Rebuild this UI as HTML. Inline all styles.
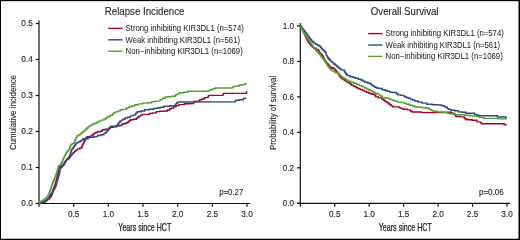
<!DOCTYPE html>
<html><head><meta charset="utf-8"><style>
html,body{margin:0;padding:0;background:#fff;}
svg{display:block;will-change:transform;}
text{font-family:"Liberation Sans",sans-serif;fill:#222;stroke:#222;stroke-width:0.25px;}
</style></head><body>
<svg width="520" height="240" viewBox="0 0 520 240">
<rect x="0" y="0" width="520" height="240" fill="#000"/>
<rect x="1" y="1.15" width="517.5" height="237.6" fill="#fff"/>

<g stroke="#111" stroke-width="1.2" fill="none">
<line x1="39.00" y1="20.5" x2="39.00" y2="206.8"/>
<line x1="35.8" y1="203.50" x2="250.3" y2="203.50"/>
<line x1="35.8" y1="203.50" x2="39.00" y2="203.50"/>
<line x1="35.8" y1="167.50" x2="39.00" y2="167.50"/>
<line x1="35.8" y1="131.50" x2="39.00" y2="131.50"/>
<line x1="35.8" y1="95.50" x2="39.00" y2="95.50"/>
<line x1="35.8" y1="59.50" x2="39.00" y2="59.50"/>
<line x1="35.8" y1="23.50" x2="39.00" y2="23.50"/>
<line x1="73.67" y1="203.50" x2="73.67" y2="206.8"/>
<line x1="108.34" y1="203.50" x2="108.34" y2="206.8"/>
<line x1="143.01" y1="203.50" x2="143.01" y2="206.8"/>
<line x1="177.68" y1="203.50" x2="177.68" y2="206.8"/>
<line x1="212.35" y1="203.50" x2="212.35" y2="206.8"/>
<line x1="247.02" y1="203.50" x2="247.02" y2="206.8"/>
</g>
<text x="32.8" y="206.40" font-size="9.6" style="stroke-width:0.12px" text-anchor="end" textLength="11.5" lengthAdjust="spacingAndGlyphs">0.0</text>
<text x="32.8" y="170.40" font-size="9.6" style="stroke-width:0.12px" text-anchor="end" textLength="11.5" lengthAdjust="spacingAndGlyphs">0.1</text>
<text x="32.8" y="134.40" font-size="9.6" style="stroke-width:0.12px" text-anchor="end" textLength="11.5" lengthAdjust="spacingAndGlyphs">0.2</text>
<text x="32.8" y="98.40" font-size="9.6" style="stroke-width:0.12px" text-anchor="end" textLength="11.5" lengthAdjust="spacingAndGlyphs">0.3</text>
<text x="32.8" y="62.40" font-size="9.6" style="stroke-width:0.12px" text-anchor="end" textLength="11.5" lengthAdjust="spacingAndGlyphs">0.4</text>
<text x="32.8" y="26.40" font-size="9.6" style="stroke-width:0.12px" text-anchor="end" textLength="11.5" lengthAdjust="spacingAndGlyphs">0.5</text>
<text x="73.67" y="216.7" font-size="9.6" style="stroke-width:0.12px" text-anchor="middle" textLength="11.4" lengthAdjust="spacingAndGlyphs">0.5</text>
<text x="108.34" y="216.7" font-size="9.6" style="stroke-width:0.12px" text-anchor="middle" textLength="11.4" lengthAdjust="spacingAndGlyphs">1.0</text>
<text x="143.01" y="216.7" font-size="9.6" style="stroke-width:0.12px" text-anchor="middle" textLength="11.4" lengthAdjust="spacingAndGlyphs">1.5</text>
<text x="177.68" y="216.7" font-size="9.6" style="stroke-width:0.12px" text-anchor="middle" textLength="11.4" lengthAdjust="spacingAndGlyphs">2.0</text>
<text x="212.35" y="216.7" font-size="9.6" style="stroke-width:0.12px" text-anchor="middle" textLength="11.4" lengthAdjust="spacingAndGlyphs">2.5</text>
<text x="247.02" y="216.7" font-size="9.6" style="stroke-width:0.12px" text-anchor="middle" textLength="11.4" lengthAdjust="spacingAndGlyphs">3.0</text>
<text x="144.8" y="230.6" font-size="10.4" text-anchor="middle" textLength="52.9" lengthAdjust="spacingAndGlyphs">Years since HCT</text>
<text transform="translate(16.3,112.5) rotate(-90)" font-size="9.8" style="stroke-width:0.12px" text-anchor="middle" textLength="75" lengthAdjust="spacingAndGlyphs">Cumulative incidence</text>
<text x="104.8" y="14.9" font-size="10.5" style="stroke-width:0.1px" textLength="79.6" lengthAdjust="spacingAndGlyphs">Relapse Incidence</text>
<line x1="108.20" y1="28.40" x2="122.50" y2="28.40" stroke="#a8002c" stroke-width="1.4"/>
<text x="125.60" y="31.10" font-size="8.4" style="stroke-width:0.02px" textLength="118.2" lengthAdjust="spacingAndGlyphs">Strong inhibiting KIR3DL1 (n=574)</text>
<line x1="108.20" y1="39.80" x2="122.50" y2="39.80" stroke="#2b4a82" stroke-width="1.4"/>
<text x="125.60" y="42.50" font-size="8.4" style="stroke-width:0.02px" textLength="114.4" lengthAdjust="spacingAndGlyphs">Weak inhibiting KIR3DL1 (n=561)</text>
<line x1="108.20" y1="51.20" x2="122.50" y2="51.20" stroke="#50a032" stroke-width="1.4"/>
<text x="125.60" y="53.90" font-size="8.4" style="stroke-width:0.02px" textLength="117.2" lengthAdjust="spacingAndGlyphs">Non−inhibiting KIR3DL1 (n=1069)</text>
<text x="219.2" y="195.1" font-size="8.2" style="stroke-width:0.1px" textLength="24.1" lengthAdjust="spacingAndGlyphs">p=0.27</text>
<g fill="none" stroke-width="1.4" stroke-linejoin="miter">
<polyline points="39.00,203.50 40.00,203.50 40.00,203.20 41.00,203.20 42.50,203.20 42.50,202.30 44.00,202.30 45.05,202.30 45.05,200.90 46.10,200.90 46.65,200.90 46.65,199.95 47.75,199.95 47.75,199.00 48.30,199.00 49.10,199.00 49.10,198.00 49.90,198.00 50.17,198.00 50.17,197.15 50.73,197.15 50.73,196.30 51.00,196.30 51.40,196.30 51.40,195.00 51.80,195.00 51.97,195.00 51.97,194.00 52.33,194.00 52.33,193.00 52.50,193.00 52.60,193.00 52.60,192.00 52.80,192.00 52.80,191.00 53.00,191.00 53.00,190.00 53.10,190.00 53.29,190.00 53.29,189.06 53.66,189.06 53.66,188.12 54.04,188.12 54.04,187.19 54.41,187.19 54.41,186.25 54.60,186.25 54.74,186.25 54.74,185.31 55.03,185.31 55.03,184.38 55.32,184.38 55.32,183.44 55.61,183.44 55.61,182.50 55.75,182.50 55.88,182.50 55.88,181.50 56.12,181.50 56.12,180.50 56.38,180.50 56.38,179.50 56.50,179.50 56.62,179.50 56.62,178.50 56.88,178.50 56.88,177.50 57.12,177.50 57.12,176.50 57.25,176.50 57.44,176.50 57.44,175.38 57.81,175.38 57.81,174.25 58.00,174.25 58.10,174.25 58.10,173.12 58.30,173.12 58.30,172.00 58.40,172.00 58.48,172.00 58.48,171.00 58.62,171.00 58.62,170.00 58.77,170.00 58.77,169.00 58.92,169.00 58.92,168.00 59.00,168.00 59.62,168.00 59.62,167.00 60.88,167.00 60.88,166.00 61.50,166.00 62.40,166.00 62.40,165.00 63.30,165.00 63.61,165.00 63.61,163.90 64.24,163.90 64.24,162.80 64.86,162.80 64.86,161.70 65.49,161.70 65.49,160.60 65.80,160.60 66.65,160.60 66.65,159.30 67.50,159.30 68.35,159.30 68.35,158.50 69.20,158.50 69.50,158.50 69.50,157.25 70.10,157.25 70.10,156.00 70.40,156.00 70.93,156.00 70.93,154.95 71.97,154.95 71.97,153.90 72.50,153.90 73.12,153.90 73.12,152.65 74.38,152.65 74.38,151.40 75.00,151.40 75.83,151.40 75.83,150.15 77.47,150.15 77.47,148.90 78.30,148.90 79.90,148.90 79.90,148.00 81.50,148.00 81.71,148.00 81.71,146.90 82.12,146.90 82.12,145.80 82.54,145.80 82.54,144.70 82.75,144.70 83.03,144.70 83.03,143.57 83.58,143.57 83.58,142.43 84.12,142.43 84.12,141.30 84.40,141.30 84.73,141.30 84.73,140.05 85.38,140.05 85.38,138.80 85.70,138.80 85.90,138.80 85.90,138.00 86.30,138.00 86.30,137.20 86.50,137.20 87.75,137.20 87.75,136.75 89.00,136.75 90.25,136.75 90.25,135.90 91.50,135.90 92.35,135.90 92.35,134.70 93.20,134.70 93.60,134.70 93.60,133.85 94.40,133.85 94.40,133.00 94.80,133.00 95.40,133.00 95.40,132.60 96.00,132.60 97.25,132.60 97.25,131.75 98.50,131.75 100.15,131.75 100.15,131.30 101.80,131.30 102.03,131.30 102.03,130.50 102.47,130.50 102.47,129.70 102.70,129.70 105.20,129.70 105.20,129.25 107.70,129.25 108.53,129.25 108.53,128.22 110.17,128.22 110.17,127.20 111.00,127.20 113.50,127.20 113.50,126.75 116.00,126.75 116.85,126.75 116.85,125.90 117.70,125.90 119.35,125.90 119.35,125.50 121.00,125.50 121.85,125.50 121.85,124.25 122.70,124.25 123.35,124.25 123.35,123.80 124.00,123.80 125.65,123.80 125.65,123.00 127.30,123.00 127.92,123.00 127.92,121.75 129.18,121.75 129.18,120.50 129.80,120.50 130.65,120.50 130.65,119.70 131.50,119.70 133.60,119.70 133.60,119.25 135.70,119.25 136.32,119.25 136.32,118.22 137.57,118.22 137.57,117.20 138.20,117.20 139.02,117.20 139.02,116.15 140.68,116.15 140.68,115.10 141.50,115.10 142.25,115.10 142.25,114.40 143.00,114.40 149.00,114.20 149.60,114.20 149.60,113.40 150.20,113.40 152.85,113.40 152.85,112.90 155.50,112.90 156.35,112.90 156.35,111.60 157.20,111.60 159.60,111.60 159.60,111.20 162.00,111.20 166.30,111.00 167.30,111.00 167.30,110.00 168.30,110.00 169.65,110.00 169.65,108.70 171.00,108.70 171.65,108.70 171.65,108.00 172.30,108.00 173.65,108.00 173.65,106.70 175.00,106.70 176.00,106.70 176.00,105.60 177.00,105.60 179.00,105.60 179.00,104.60 181.00,104.60 184.35,104.60 184.35,103.80 187.70,103.80 193.50,103.60 193.60,103.60 193.60,102.55 193.80,102.55 193.80,101.50 193.90,101.50 196.60,101.50 196.60,101.10 199.30,101.10 199.75,101.10 199.75,99.80 200.20,99.80 201.85,99.80 201.85,99.00 203.50,99.00 204.35,99.00 204.35,97.75 205.20,97.75 207.70,97.60 208.00,97.60 208.00,96.50 208.60,96.50 208.60,95.40 208.90,95.40 222.70,95.40 223.00,95.40 223.00,94.40 223.60,94.40 223.60,93.40 223.90,93.40 246.25,93.40 246.39,93.40 246.39,92.50 246.66,92.50 246.66,91.60 246.80,91.60" stroke="#a8002c"/>
<polyline points="39.00,203.50 39.85,203.50 39.85,202.80 40.70,202.80 42.05,202.80 42.05,202.00 43.40,202.00 44.50,202.00 44.50,200.70 45.60,200.70 46.14,200.70 46.14,199.60 47.21,199.60 47.21,198.50 47.75,198.50 48.27,198.50 48.27,197.10 48.80,197.10 49.35,197.10 49.35,195.80 49.90,195.80 50.17,195.80 50.17,195.00 50.73,195.00 50.73,194.20 51.00,194.20 51.27,194.20 51.27,193.35 51.83,193.35 51.83,192.50 52.10,192.50 52.55,192.50 52.55,191.25 53.45,191.25 53.45,190.00 53.90,190.00 54.15,190.00 54.15,189.00 54.65,189.00 54.65,188.00 55.15,188.00 55.15,187.00 55.40,187.00 55.58,187.00 55.58,186.00 55.95,186.00 55.95,185.00 56.32,185.00 56.32,184.00 56.50,184.00 56.62,184.00 56.62,183.00 56.88,183.00 56.88,182.00 57.12,182.00 57.12,181.00 57.25,181.00 57.44,181.00 57.44,179.88 57.81,179.88 57.81,178.75 58.00,178.75 58.12,178.75 58.12,177.75 58.38,177.75 58.38,176.75 58.62,176.75 58.62,175.75 58.75,175.75 58.94,175.75 58.94,174.62 59.31,174.62 59.31,173.50 59.50,173.50 59.60,173.50 59.60,172.25 59.80,172.25 59.80,171.00 59.90,171.00 59.96,171.00 59.96,170.13 60.08,170.13 60.08,169.27 60.19,169.27 60.19,168.40 60.25,168.40 61.00,168.40 61.00,167.25 61.75,167.25 62.12,167.25 62.12,166.32 62.88,166.32 62.88,165.40 63.25,165.40 63.62,165.40 63.62,164.45 64.38,164.45 64.38,163.50 64.75,163.50 64.94,163.50 64.94,162.63 65.33,162.63 65.33,161.77 65.71,161.77 65.71,160.90 65.90,160.90 66.18,160.90 66.18,160.15 66.72,160.15 66.72,159.40 67.00,159.40 67.55,159.40 67.55,158.60 68.10,158.60 68.39,158.60 68.39,157.68 68.96,157.68 68.96,156.75 69.25,156.75 69.58,156.75 69.58,155.40 69.90,155.40 70.05,155.40 70.05,154.35 70.35,154.35 70.35,153.30 70.65,153.30 70.65,152.25 70.80,152.25 71.02,152.25 71.02,151.27 71.45,151.27 71.45,150.28 71.88,150.28 71.88,149.30 72.10,149.30 72.51,149.30 72.51,148.28 73.34,148.28 73.34,147.25 73.75,147.25 74.01,147.25 74.01,146.38 74.54,146.38 74.54,145.50 74.80,145.50 75.22,145.50 75.22,144.53 76.05,144.53 76.05,143.57 76.88,143.57 76.88,142.60 77.30,142.60 78.55,142.60 78.55,141.75 79.80,141.75 80.33,141.75 80.33,140.93 81.38,140.93 81.38,140.10 81.90,140.10 82.95,140.10 82.95,138.80 84.00,138.80 87.30,138.80 88.15,138.80 88.15,137.60 89.00,137.60 90.65,137.60 90.65,137.20 92.30,137.20 94.15,137.20 94.15,136.60 96.00,136.60 97.65,136.60 97.65,135.50 99.30,135.50 101.00,135.50 101.00,134.70 102.70,134.70 103.95,134.70 103.95,133.40 105.20,133.40 105.60,133.40 105.60,132.57 106.40,132.57 106.40,131.75 106.80,131.75 107.22,131.75 107.22,130.72 108.08,130.72 108.08,129.70 108.50,129.70 108.92,129.70 108.92,128.45 109.78,128.45 109.78,127.20 110.20,127.20 110.60,127.20 110.60,126.30 111.00,126.30 116.00,126.30 116.42,126.30 116.42,125.50 117.28,125.50 117.28,124.70 117.70,124.70 118.10,124.70 118.10,123.45 118.90,123.45 118.90,122.20 119.30,122.20 120.15,122.20 120.15,120.90 121.00,120.90 121.62,120.90 121.62,120.08 122.88,120.08 122.88,119.25 123.50,119.25 125.00,119.25 125.00,118.00 126.50,118.00 127.75,118.00 127.75,117.20 129.00,117.20 130.25,117.20 130.25,115.90 131.50,115.90 133.15,115.90 133.15,115.10 134.80,115.10 135.23,115.10 135.23,114.05 136.07,114.05 136.07,113.00 136.50,113.00 137.35,113.00 137.35,111.75 138.20,111.75 141.10,111.75 141.10,111.00 144.00,111.00 144.60,111.00 144.60,109.70 145.20,109.70 149.20,109.70 149.20,109.30 153.20,109.30 153.60,109.30 153.60,108.50 154.00,108.50 157.50,108.30 158.25,108.30 158.25,107.70 159.00,107.70 161.00,107.70 161.00,107.30 163.00,107.30 164.00,107.30 164.00,106.30 165.00,106.30 170.00,106.30 170.00,105.70 175.00,105.70 175.32,105.70 175.32,104.65 175.98,104.65 175.98,103.60 176.30,103.60 176.85,103.60 176.85,102.80 177.95,102.80 177.95,102.00 178.50,102.00 235.00,101.90 235.25,101.90 235.25,101.05 235.75,101.05 235.75,100.20 236.00,100.20 239.50,100.20 239.50,99.80 243.00,99.80 243.25,99.80 243.25,99.00 243.75,99.00 243.75,98.20 244.00,98.20 246.25,98.20" stroke="#2b4a82"/>
<polyline points="39.00,203.50 39.30,203.50 39.30,202.30 39.60,202.30 40.27,202.30 40.27,201.50 41.62,201.50 41.62,200.70 42.30,200.70 42.97,200.70 42.97,199.85 44.33,199.85 44.33,199.00 45.00,199.00 45.85,199.00 45.85,198.00 46.70,198.00 46.96,198.00 46.96,197.15 47.49,197.15 47.49,196.30 47.75,196.30 48.01,196.30 48.01,195.25 48.54,195.25 48.54,194.20 48.80,194.20 49.00,194.20 49.00,193.10 49.40,193.10 49.40,192.00 49.60,192.00 49.83,192.00 49.83,191.00 50.27,191.00 50.27,190.00 50.50,190.00 50.64,190.00 50.64,189.06 50.91,189.06 50.91,188.12 51.19,188.12 51.19,187.19 51.46,187.19 51.46,186.25 51.60,186.25 51.79,186.25 51.79,185.12 52.16,185.12 52.16,184.00 52.54,184.00 52.54,182.88 52.91,182.88 52.91,181.75 53.10,181.75 53.35,181.75 53.35,180.75 53.85,180.75 53.85,179.75 54.35,179.75 54.35,178.75 54.60,178.75 54.80,178.75 54.80,177.62 55.20,177.62 55.20,176.50 55.40,176.50 55.58,176.50 55.58,175.50 55.95,175.50 55.95,174.50 56.32,174.50 56.32,173.50 56.50,173.50 56.64,173.50 56.64,172.50 56.91,172.50 56.91,171.50 57.19,171.50 57.19,170.50 57.46,170.50 57.46,169.50 57.60,169.50 57.73,169.50 57.73,168.50 58.00,168.50 58.00,167.50 58.27,167.50 58.27,166.50 58.40,166.50 58.86,166.50 58.86,165.75 59.79,165.75 59.79,165.00 60.25,165.00 60.62,165.00 60.62,163.88 61.38,163.88 61.38,162.75 61.75,162.75 61.94,162.75 61.94,161.81 62.31,161.81 62.31,160.88 62.69,160.88 62.69,159.94 63.06,159.94 63.06,159.00 63.25,159.00 63.50,159.00 63.50,158.00 64.00,158.00 64.00,157.00 64.50,157.00 64.50,156.00 64.75,156.00 65.01,156.00 65.01,155.15 65.54,155.15 65.54,154.30 65.80,154.30 66.08,154.30 66.08,153.20 66.65,153.20 66.65,152.10 67.22,152.10 67.22,151.00 67.50,151.00 68.35,151.00 68.35,149.75 69.20,149.75 69.35,149.75 69.35,148.88 69.65,148.88 69.65,148.00 69.80,148.00 70.03,148.00 70.03,146.75 70.47,146.75 70.47,145.50 70.70,145.50 71.10,145.50 71.10,144.65 71.90,144.65 71.90,143.80 72.30,143.80 73.15,143.80 73.15,143.40 74.00,143.40 74.20,143.40 74.20,142.35 74.60,142.35 74.60,141.30 74.80,141.30 75.01,141.30 75.01,140.28 75.44,140.28 75.44,139.25 75.86,139.25 75.86,138.22 76.29,138.22 76.29,137.20 76.50,137.20 76.90,137.20 76.90,135.90 77.30,135.90 78.55,135.90 78.55,134.70 79.80,134.70 80.22,134.70 80.22,133.85 81.08,133.85 81.08,133.00 81.50,133.00 82.12,133.00 82.12,132.15 83.38,132.15 83.38,131.30 84.00,131.30 84.85,131.30 84.85,130.10 85.70,130.10 86.10,130.10 86.10,129.05 86.90,129.05 86.90,128.00 87.30,128.00 88.03,128.00 88.03,126.90 89.47,126.90 89.47,125.80 90.20,125.80 90.97,125.80 90.97,124.90 92.53,124.90 92.53,124.00 93.30,124.00 94.65,124.00 94.65,123.30 96.00,123.30 96.83,123.30 96.83,122.20 98.47,122.20 98.47,121.10 99.30,121.10 101.00,121.10 101.00,120.10 102.70,120.10 103.95,120.10 103.95,119.00 105.20,119.00 106.03,119.00 106.03,117.75 107.67,117.75 107.67,116.50 108.50,116.50 110.15,116.50 110.15,115.25 111.80,115.25 112.42,115.25 112.42,114.00 113.67,114.00 113.67,112.75 114.30,112.75 115.55,112.75 115.55,111.92 118.05,111.92 118.05,111.10 119.30,111.10 120.15,111.10 120.15,109.80 121.00,109.80 123.10,109.80 123.10,109.40 125.20,109.40 125.90,109.40 125.90,108.55 127.30,108.55 127.30,107.70 128.00,107.70 129.25,107.70 129.25,106.80 130.50,106.80 131.75,106.80 131.75,106.00 133.00,106.00 134.65,106.00 134.65,104.75 136.30,104.75 138.40,104.75 138.40,103.90 140.50,103.90 142.60,103.90 142.60,103.10 144.70,103.10 147.60,103.10 147.60,102.70 150.50,102.70 151.75,102.70 151.75,101.60 153.00,101.60 155.25,101.60 155.25,101.10 157.50,101.10 159.50,100.90 160.00,100.90 160.00,99.60 160.50,99.60 162.40,99.60 162.40,98.30 164.30,98.30 165.00,98.30 165.00,97.00 165.70,97.00 168.30,96.70 171.65,96.70 171.65,96.30 175.00,96.30 175.20,96.30 175.20,95.55 175.60,95.55 175.60,94.80 175.80,94.80 176.75,94.80 176.75,94.40 177.70,94.40 178.32,94.40 178.32,93.58 179.57,93.58 179.57,92.75 180.20,92.75 183.50,92.75 183.50,92.30 186.80,92.30 187.65,92.30 187.65,91.20 188.50,91.20 207.70,91.20 208.50,91.20 208.50,90.40 209.30,90.40 210.55,90.40 210.55,89.60 211.80,89.60 213.05,89.60 213.05,88.75 214.30,88.75 215.15,88.75 215.15,88.00 216.00,88.00 232.00,88.00 232.50,88.00 232.50,87.20 233.50,87.20 233.50,86.40 234.00,86.40 236.50,86.40 236.50,86.00 239.00,86.00 239.50,86.00 239.50,85.00 240.00,85.00 242.00,85.00 242.00,84.60 244.00,84.60 244.50,84.60 244.50,84.00 245.00,84.00 246.80,83.80" stroke="#50a032"/>
</g>
<g stroke="#111" stroke-width="1.2" fill="none">
<line x1="300.30" y1="23" x2="300.30" y2="206.8"/>
<line x1="297" y1="203.30" x2="510.3" y2="203.30"/>
<line x1="297" y1="203.30" x2="300.30" y2="203.30"/>
<line x1="297" y1="167.82" x2="300.30" y2="167.82"/>
<line x1="297" y1="132.34" x2="300.30" y2="132.34"/>
<line x1="297" y1="96.86" x2="300.30" y2="96.86"/>
<line x1="297" y1="61.38" x2="300.30" y2="61.38"/>
<line x1="297" y1="25.90" x2="300.30" y2="25.90"/>
<line x1="334.75" y1="203.30" x2="334.75" y2="206.8"/>
<line x1="369.20" y1="203.30" x2="369.20" y2="206.8"/>
<line x1="403.65" y1="203.30" x2="403.65" y2="206.8"/>
<line x1="438.10" y1="203.30" x2="438.10" y2="206.8"/>
<line x1="472.55" y1="203.30" x2="472.55" y2="206.8"/>
<line x1="507.00" y1="203.30" x2="507.00" y2="206.8"/>
</g>
<text x="294" y="206.20" font-size="9.6" style="stroke-width:0.12px" text-anchor="end" textLength="11.3" lengthAdjust="spacingAndGlyphs">0.0</text>
<text x="294" y="170.72" font-size="9.6" style="stroke-width:0.12px" text-anchor="end" textLength="11.3" lengthAdjust="spacingAndGlyphs">0.2</text>
<text x="294" y="135.24" font-size="9.6" style="stroke-width:0.12px" text-anchor="end" textLength="11.3" lengthAdjust="spacingAndGlyphs">0.4</text>
<text x="294" y="99.76" font-size="9.6" style="stroke-width:0.12px" text-anchor="end" textLength="11.3" lengthAdjust="spacingAndGlyphs">0.6</text>
<text x="294" y="64.28" font-size="9.6" style="stroke-width:0.12px" text-anchor="end" textLength="11.3" lengthAdjust="spacingAndGlyphs">0.8</text>
<text x="294" y="28.80" font-size="9.6" style="stroke-width:0.12px" text-anchor="end" textLength="11.3" lengthAdjust="spacingAndGlyphs">1.0</text>
<text x="334.75" y="216.7" font-size="9.6" style="stroke-width:0.12px" text-anchor="middle" textLength="11.4" lengthAdjust="spacingAndGlyphs">0.5</text>
<text x="369.20" y="216.7" font-size="9.6" style="stroke-width:0.12px" text-anchor="middle" textLength="11.4" lengthAdjust="spacingAndGlyphs">1.0</text>
<text x="403.65" y="216.7" font-size="9.6" style="stroke-width:0.12px" text-anchor="middle" textLength="11.4" lengthAdjust="spacingAndGlyphs">1.5</text>
<text x="438.10" y="216.7" font-size="9.6" style="stroke-width:0.12px" text-anchor="middle" textLength="11.4" lengthAdjust="spacingAndGlyphs">2.0</text>
<text x="472.55" y="216.7" font-size="9.6" style="stroke-width:0.12px" text-anchor="middle" textLength="11.4" lengthAdjust="spacingAndGlyphs">2.5</text>
<text x="507.00" y="216.7" font-size="9.6" style="stroke-width:0.12px" text-anchor="middle" textLength="11.4" lengthAdjust="spacingAndGlyphs">3.0</text>
<text x="405.3" y="230.6" font-size="10.4" text-anchor="middle" textLength="53.1" lengthAdjust="spacingAndGlyphs">Years since HCT</text>
<text transform="translate(276.3,112.9) rotate(-90)" font-size="9.8" style="stroke-width:0.12px" text-anchor="middle" textLength="74.2" lengthAdjust="spacingAndGlyphs">Probability of survival</text>
<text x="370.8" y="14.8" font-size="10.5" style="stroke-width:0.1px" textLength="67.7" lengthAdjust="spacingAndGlyphs">Overall Survival</text>
<line x1="368.20" y1="33.60" x2="382.50" y2="33.60" stroke="#a8002c" stroke-width="1.4"/>
<text x="385.60" y="36.30" font-size="8.4" style="stroke-width:0.02px" textLength="118.2" lengthAdjust="spacingAndGlyphs">Strong inhibiting KIR3DL1 (n=574)</text>
<line x1="368.20" y1="45.00" x2="382.50" y2="45.00" stroke="#2b4a82" stroke-width="1.4"/>
<text x="385.60" y="47.70" font-size="8.4" style="stroke-width:0.02px" textLength="114.4" lengthAdjust="spacingAndGlyphs">Weak inhibiting KIR3DL1 (n=561)</text>
<line x1="368.20" y1="56.40" x2="382.50" y2="56.40" stroke="#50a032" stroke-width="1.4"/>
<text x="385.60" y="59.10" font-size="8.4" style="stroke-width:0.02px" textLength="117.2" lengthAdjust="spacingAndGlyphs">Non−inhibiting KIR3DL1 (n=1069)</text>
<text x="479" y="195.3" font-size="8.2" style="stroke-width:0.1px" textLength="24.7" lengthAdjust="spacingAndGlyphs">p=0.06</text>
<g fill="none" stroke-width="1.4" stroke-linejoin="miter">
<polyline points="300.50,26.00 301.10,26.00 301.10,27.40 301.70,27.40 301.89,27.40 301.89,28.33 302.27,28.33 302.27,29.27 302.66,29.27 302.66,30.20 303.04,30.20 303.04,31.13 303.43,31.13 303.43,32.07 303.81,32.07 303.81,33.00 304.00,33.00 304.23,33.00 304.23,33.92 304.68,33.92 304.68,34.84 305.12,34.84 305.12,35.76 305.57,35.76 305.57,36.68 306.02,36.68 306.02,37.60 306.25,37.60 306.44,37.60 306.44,38.47 306.82,38.47 306.82,39.33 307.21,39.33 307.21,40.20 307.40,40.20 307.67,40.20 307.67,41.15 308.23,41.15 308.23,42.10 308.50,42.10 308.93,42.10 308.93,43.13 309.80,43.13 309.80,44.17 310.67,44.17 310.67,45.20 311.10,45.20 311.62,45.20 311.62,46.23 312.68,46.23 312.68,47.27 313.73,47.27 313.73,48.30 314.25,48.30 316.07,48.30 316.07,49.40 317.90,49.40 318.16,49.40 318.16,50.30 318.69,50.30 318.69,51.20 319.21,51.20 319.21,52.10 319.74,52.10 319.74,53.00 320.00,53.00 320.43,53.00 320.43,53.87 321.30,53.87 321.30,54.73 322.17,54.73 322.17,55.60 322.60,55.60 322.83,55.60 322.83,56.53 323.30,56.53 323.30,57.47 323.77,57.47 323.77,58.40 324.23,58.40 324.23,59.33 324.70,59.33 324.70,60.27 325.17,60.27 325.17,61.20 325.40,61.20 325.85,61.20 325.85,62.20 326.75,62.20 326.75,63.20 327.65,63.20 327.65,64.20 328.10,64.20 328.49,64.20 328.49,65.22 329.28,65.22 329.28,66.25 330.07,66.25 330.07,67.28 330.86,67.28 330.86,68.30 331.25,68.30 332.27,68.30 332.27,67.80 333.30,67.80 333.82,67.80 333.82,68.85 334.88,68.85 334.88,69.90 335.40,69.90 335.67,69.90 335.67,70.70 336.23,70.70 336.23,71.50 336.50,71.50 337.00,71.50 337.00,72.50 338.00,72.50 338.00,73.50 338.50,73.50 338.68,73.50 338.68,74.37 339.05,74.37 339.05,75.23 339.42,75.23 339.42,76.10 339.60,76.10 340.12,76.10 340.12,77.15 341.18,77.15 341.18,78.20 341.70,78.20 342.35,78.20 342.35,79.00 343.65,79.00 343.65,79.80 344.30,79.80 344.95,79.80 344.95,80.85 346.25,80.85 346.25,81.90 346.90,81.90 348.05,81.90 348.05,82.80 349.20,82.80 349.72,82.80 349.72,83.67 350.75,83.67 350.75,84.53 351.78,84.53 351.78,85.40 352.30,85.40 353.85,85.40 353.85,86.50 355.40,86.50 356.17,86.50 356.17,87.50 357.73,87.50 357.73,88.50 358.50,88.50 360.10,88.50 360.10,89.60 361.70,89.60 362.48,89.60 362.48,90.35 364.02,90.35 364.02,91.10 364.80,91.10 366.35,91.10 366.35,92.20 367.90,92.20 368.67,92.20 368.67,92.97 370.23,92.97 370.23,93.75 371.00,93.75 372.60,93.75 372.60,94.30 374.20,94.30 374.54,94.30 374.54,95.17 375.23,95.17 375.23,96.03 375.91,96.03 375.91,96.90 376.25,96.90 378.32,96.90 378.32,97.90 380.40,97.90 381.85,97.90 381.85,99.30 383.30,99.30 383.77,99.30 383.77,100.20 384.73,100.20 384.73,101.10 385.20,101.10 386.25,101.10 386.25,102.20 387.30,102.20 387.82,102.20 387.82,103.07 388.85,103.07 388.85,103.93 389.88,103.93 389.88,104.80 390.40,104.80 391.17,104.80 391.17,105.85 392.73,105.85 392.73,106.90 393.50,106.90 398.75,106.90 399.26,106.90 399.26,107.65 400.29,107.65 400.29,108.40 400.80,108.40 403.00,108.40 403.00,109.30 405.20,109.30 407.40,109.30 407.40,109.90 409.60,109.90 410.38,109.90 410.38,110.95 411.93,110.95 411.93,112.00 412.70,112.00 421.00,112.00 421.55,112.00 421.55,112.60 422.10,112.60 440.00,112.50 448.00,112.30 450.50,112.30 451.55,112.30 451.55,113.15 453.65,113.15 453.65,114.00 454.70,114.00 455.10,114.00 455.10,115.25 455.90,115.25 455.90,116.50 456.30,116.50 460.05,116.50 460.05,116.90 463.80,116.90 464.23,116.90 464.23,117.95 465.07,117.95 465.07,119.00 465.50,119.00 466.75,119.00 466.75,119.80 468.00,119.80 472.15,119.80 472.15,120.25 476.30,120.25 476.73,120.25 476.73,121.08 477.57,121.08 477.57,121.90 478.00,121.90 480.50,122.10 480.80,122.10 480.80,122.90 481.40,122.90 481.40,123.70 481.70,123.70 503.30,123.70 504.15,123.70 504.15,124.70 505.00,124.70 506.70,124.70" stroke="#a8002c"/>
<polyline points="300.50,26.00 301.00,26.00 301.00,27.20 302.00,27.20 302.00,28.40 302.50,28.40 302.88,28.40 302.88,29.35 303.62,29.35 303.62,30.30 304.38,30.30 304.38,31.25 305.12,31.25 305.12,32.20 305.50,32.20 305.88,32.20 305.88,33.18 306.62,33.18 306.62,34.15 307.38,34.15 307.38,35.12 308.12,35.12 308.12,36.10 308.50,36.10 308.82,36.10 308.82,37.02 309.48,37.02 309.48,37.95 310.12,37.95 310.12,38.88 310.78,38.88 310.78,39.80 311.10,39.80 311.62,39.80 311.62,40.95 312.68,40.95 312.68,42.10 313.20,42.10 313.98,42.10 313.98,43.15 315.52,43.15 315.52,44.20 316.30,44.20 317.10,44.20 317.10,44.95 318.70,44.95 318.70,45.70 319.50,45.70 319.89,45.70 319.89,46.62 320.66,46.62 320.66,47.55 321.44,47.55 321.44,48.48 322.21,48.48 322.21,49.40 322.60,49.40 323.25,49.40 323.25,50.45 324.55,50.45 324.55,51.50 325.20,51.50 325.39,51.50 325.39,52.52 325.78,52.52 325.78,53.55 326.17,53.55 326.17,54.58 326.56,54.58 326.56,55.60 326.75,55.60 327.09,55.60 327.09,56.65 327.77,56.65 327.77,57.70 328.46,57.70 328.46,58.75 328.80,58.75 329.33,58.75 329.33,59.80 330.40,59.80 330.40,60.85 331.47,60.85 331.47,61.90 332.00,61.90 332.57,61.90 332.57,62.83 333.70,62.83 333.70,63.77 334.83,63.77 334.83,64.70 335.40,64.70 335.92,64.70 335.92,65.60 336.98,65.60 336.98,66.50 338.02,66.50 338.02,67.40 339.08,67.40 339.08,68.30 339.60,68.30 340.12,68.30 340.12,69.10 341.18,69.10 341.18,69.90 341.70,69.90 343.75,69.90 344.01,69.90 344.01,70.80 344.52,70.80 344.52,71.70 345.03,71.70 345.03,72.60 345.54,72.60 345.54,73.50 345.80,73.50 346.32,73.50 346.32,74.55 347.38,74.55 347.38,75.60 347.90,75.60 350.00,75.60 350.00,76.70 352.10,76.70 353.14,76.70 353.14,77.45 355.21,77.45 355.21,78.20 356.25,78.20 358.32,78.20 358.32,79.30 360.40,79.30 361.30,79.30 361.30,80.30 363.10,80.30 363.10,81.30 364.90,81.30 364.90,82.30 365.80,82.30 367.90,82.30 367.90,83.30 370.00,83.30 370.70,83.30 370.70,84.37 372.10,84.37 372.10,85.43 373.50,85.43 373.50,86.50 374.20,86.50 374.98,86.50 374.98,87.25 376.52,87.25 376.52,88.00 377.30,88.00 378.85,88.00 378.85,88.50 380.40,88.50 382.30,88.50 382.30,89.70 384.20,89.70 385.23,89.70 385.23,90.47 387.27,90.47 387.27,91.25 388.30,91.25 389.90,91.25 389.90,92.30 391.50,92.30 395.60,92.50 396.39,92.50 396.39,93.70 397.96,93.70 397.96,94.90 398.75,94.90 400.82,94.90 400.82,95.40 402.90,95.40 403.95,95.40 403.95,96.45 406.05,96.45 406.05,97.50 407.10,97.50 408.14,97.50 408.14,98.30 410.21,98.30 410.21,99.10 411.25,99.10 412.39,99.10 412.39,100.05 414.66,100.05 414.66,101.00 415.80,101.00 417.90,101.00 417.90,102.10 420.00,102.10 422.10,102.10 422.10,103.10 424.20,103.10 426.80,103.10 426.80,104.20 429.40,104.20 432.82,104.20 432.82,104.70 436.25,104.70 440.00,105.00 441.65,105.00 441.65,105.80 443.30,105.80 444.15,105.80 444.15,106.65 445.85,106.65 445.85,107.50 446.70,107.50 447.35,107.50 447.35,108.60 448.00,108.60 448.85,108.60 448.85,109.40 449.70,109.40 450.95,109.40 450.95,110.25 452.20,110.25 454.70,110.25 454.70,110.70 457.20,110.70 458.45,110.70 458.45,111.90 459.70,111.90 462.20,111.90 462.20,112.30 464.70,112.30 465.95,112.30 465.95,113.20 467.20,113.20 473.80,113.20 474.65,113.20 474.65,114.40 475.50,114.40 476.75,114.40 476.75,115.25 478.00,115.25 479.00,115.25 479.00,115.80 480.00,115.80 496.70,115.80 497.50,115.80 497.50,117.00 498.30,117.00 505.00,117.00 505.85,117.00 505.85,118.00 506.70,118.00" stroke="#2b4a82"/>
<polyline points="300.50,26.00 300.68,26.00 300.68,26.90 301.02,26.90 301.02,27.80 301.20,27.80 301.48,27.80 301.48,28.84 302.04,28.84 302.04,29.88 302.60,29.88 302.60,30.92 303.16,30.92 303.16,31.96 303.72,31.96 303.72,33.00 304.00,33.00 304.38,33.00 304.38,33.98 305.12,33.98 305.12,34.95 305.88,34.95 305.88,35.92 306.62,35.92 306.62,36.90 307.00,36.90 307.33,36.90 307.33,38.00 308.00,38.00 308.00,39.10 308.67,39.10 308.67,40.20 309.00,40.20 309.32,40.20 309.32,41.20 309.96,41.20 309.96,42.20 310.60,42.20 310.60,43.20 311.24,43.20 311.24,44.20 311.88,44.20 311.88,45.20 312.20,45.20 312.59,45.20 312.59,46.25 313.36,46.25 313.36,47.30 314.14,47.30 314.14,48.35 314.91,48.35 314.91,49.40 315.30,49.40 315.82,49.40 315.82,50.43 316.85,50.43 316.85,51.47 317.88,51.47 317.88,52.50 318.40,52.50 318.79,52.50 318.79,53.55 319.56,53.55 319.56,54.60 320.34,54.60 320.34,55.65 321.11,55.65 321.11,56.70 321.50,56.70 321.90,56.70 321.90,57.73 322.70,57.73 322.70,58.75 323.50,58.75 323.50,59.77 324.30,59.77 324.30,60.80 324.70,60.80 325.04,60.80 325.04,61.89 325.72,61.89 325.72,62.98 326.40,62.98 326.40,64.07 327.08,64.07 327.08,65.16 327.76,65.16 327.76,66.25 328.10,66.25 328.49,66.25 328.49,67.16 329.28,67.16 329.28,68.08 330.07,68.08 330.07,68.99 330.86,68.99 330.86,69.90 331.25,69.90 332.29,69.90 332.29,70.95 334.36,70.95 334.36,72.00 335.40,72.00 336.17,72.00 336.17,72.75 337.73,72.75 337.73,73.50 338.50,73.50 339.03,73.50 339.03,74.57 340.10,74.57 340.10,75.63 341.17,75.63 341.17,76.70 341.70,76.70 342.38,76.70 342.38,77.57 343.75,77.57 343.75,78.43 345.12,78.43 345.12,79.30 345.80,79.30 346.65,79.30 346.65,80.28 348.35,80.28 348.35,81.25 349.20,81.25 350.75,81.25 350.75,82.28 353.85,82.28 353.85,83.30 355.40,83.30 356.70,83.30 356.70,84.35 359.30,84.35 359.30,85.40 360.60,85.40 361.47,85.40 361.47,86.27 363.20,86.27 363.20,87.13 364.93,87.13 364.93,88.00 365.80,88.00 366.67,88.00 366.67,88.87 368.40,88.87 368.40,89.73 370.13,89.73 370.13,90.60 371.00,90.60 371.88,90.60 371.88,91.47 373.62,91.47 373.62,92.33 375.38,92.33 375.38,93.20 376.25,93.20 377.24,93.20 377.24,94.15 379.21,94.15 379.21,95.10 380.20,95.10 380.93,95.10 380.93,96.30 382.38,96.30 382.38,97.50 383.10,97.50 385.20,97.50 385.20,98.00 387.30,98.00 388.35,98.00 388.35,98.80 390.45,98.80 390.45,99.60 391.50,99.60 392.52,99.60 392.52,100.35 394.58,100.35 394.58,101.10 395.60,101.10 397.55,101.10 397.55,102.10 399.50,102.10 401.40,102.10 401.40,102.60 403.30,102.60 404.35,102.60 404.35,103.40 406.45,103.40 406.45,104.20 407.50,104.20 409.60,104.20 409.60,105.20 411.70,105.20 412.73,105.20 412.73,106.00 414.77,106.00 414.77,106.80 415.80,106.80 417.90,106.80 417.90,107.30 420.00,107.30 422.10,107.30 422.10,107.80 424.20,107.80 426.25,107.80 426.25,108.30 428.30,108.30 429.15,108.30 429.15,109.40 430.00,109.40 431.05,109.40 431.05,110.40 432.10,110.40 433.15,110.40 433.15,111.25 434.20,111.25 437.30,111.25 437.30,112.00 440.40,112.00 443.55,112.00 443.55,112.50 446.70,112.50 447.35,112.50 447.35,113.20 448.00,113.20 449.65,113.20 449.65,113.80 451.30,113.80 453.00,113.80 453.00,114.40 454.70,114.40 458.00,114.70 462.20,114.80 464.70,114.80 464.70,115.25 467.20,115.25 469.70,115.25 469.70,115.70 472.20,115.70 473.85,115.70 473.85,116.10 475.50,116.10 476.75,116.10 476.75,116.60 478.00,116.60 479.25,116.60 479.25,117.30 480.50,117.30 483.50,117.60 483.85,117.60 483.85,118.40 484.20,118.40 497.00,118.40 498.00,118.40 498.00,118.90 499.00,118.90 506.70,118.90" stroke="#50a032"/>
</g>
</svg></body></html>
